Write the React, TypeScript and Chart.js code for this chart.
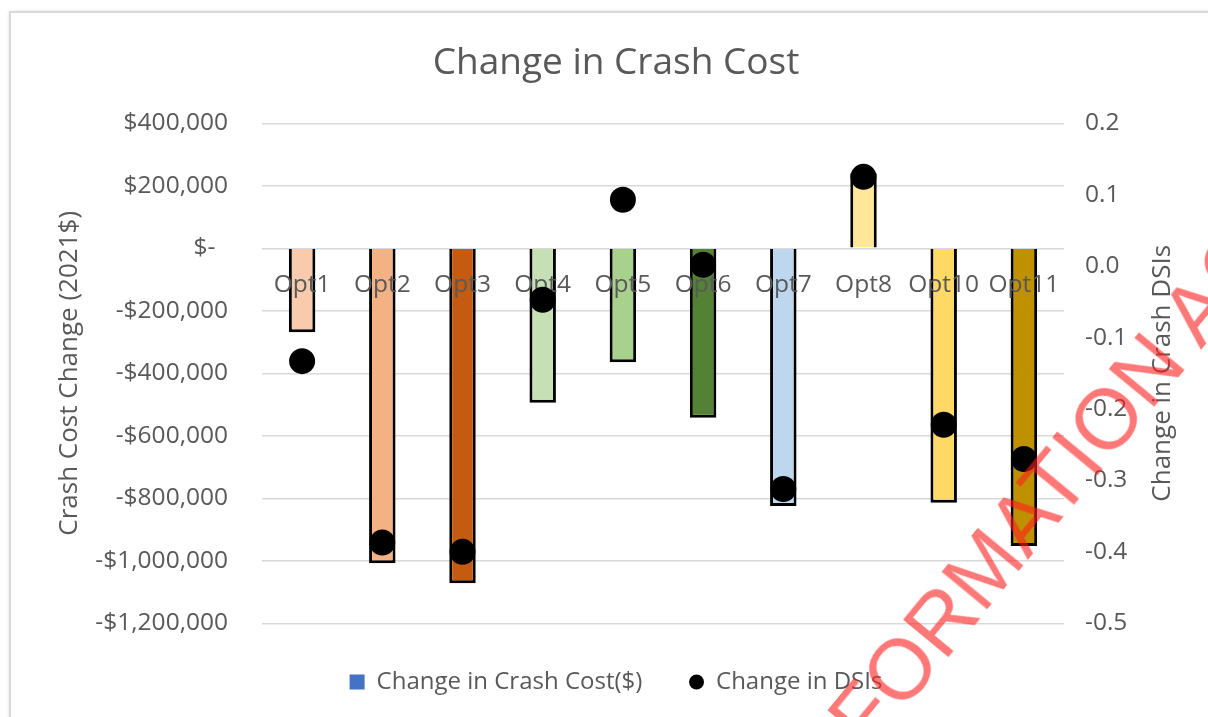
import React, { useEffect, useRef } from 'react';
import { Chart, registerables } from 'chart.js';

Chart.register(...registerables);

// ---------- data ----------
const categories = ['Opt1', 'Opt2', 'Opt3', 'Opt4', 'Opt5', 'Opt6', 'Opt7', 'Opt8', 'Opt10', 'Opt11'];
const crashCostChange = [-269000, -1008000, -1072000, -494000, -365000, -542000, -825000, 240000, -814000, -953000];
const dsiChange = [-0.133, -0.387, -0.4, -0.047, 0.093, 0.002, -0.312, 0.125, -0.222, -0.27];
const barColors = ['#F8CBAD', '#F4B183', '#C55A11', '#C5E0B4', '#A9D18E', '#548235', '#BDD7EE', '#FFE699', '#FFD966', '#BF9000'];
const costAxisRange = [-1200000, 400000];
const costAxisStep = 200000;
const dsiAxisRange = [-0.5, 0.2];
const dsiAxisStep = 0.1;
const chartTitle = 'Change in Crash Cost';
const leftAxisTitle = 'Crash Cost Change (2021$)';
const rightAxisTitle = 'Change in Crash DSIs';
const legendTexts = ['Change in Crash Cost($)', 'Change in DSIs'];
const legendColors = ['#4472C4', '#000000'];
const watermarkText = 'INFORMATION ACT';

const FONT = "'Open Sans', sans-serif";
const TEXT = '#595959';

const formatCost = (v: number) => {
  if (Math.abs(v) < 1e-6) return '$-  ';
  const s = '$' + Math.abs(v).toLocaleString('en-US');
  return v < 0 ? '-' + s : s;
};

const labelsBetweenLayers = {
  id: 'labelsBetweenLayers',
  beforeDraw(chart: any) {
    const xs = chart.scales.x;
    if (xs && !xs.__silenced) {
      xs.drawLabels = () => {};
      xs.__silenced = true;
    }
  },
  afterDatasetDraw(chart: any, args: any) {
    if (args.index === 0) {
      const xs = chart.scales.x;
      Object.getPrototypeOf(xs).drawLabels.call(xs, chart.chartArea);
    }
  },
};

const rightTitlePlugin = {
  id: 'rightTitle',
  afterDraw(chart: any) {
    const { ctx, chartArea } = chart;
    const s = chart.scales.y1;
    ctx.save();
    ctx.translate(s.right - 45, (chartArea.top + chartArea.bottom) / 2);
    ctx.rotate(-Math.PI / 2);
    ctx.font = `26px ${FONT}`;
    ctx.fillStyle = TEXT;
    ctx.textAlign = 'center';
    ctx.textBaseline = 'middle';
    ctx.fillText(rightAxisTitle, 0, 0);
    ctx.restore();
  },
};

export default function App() {
  const canvasRef = useRef<HTMLCanvasElement | null>(null);

  useEffect(() => {
    if (!canvasRef.current) return;
    Chart.defaults.font.family = FONT;
    Chart.defaults.color = TEXT;
    const chart = new Chart(canvasRef.current, {
      type: 'bar',
      data: {
        labels: categories,
        datasets: [
          {
            type: 'bar',
            label: legendTexts[0],
            data: crashCostChange,
            backgroundColor: barColors,
            borderColor: '#000000',
            borderWidth: 3,
            borderSkipped: 'start',
            barPercentage: 0.33,
            categoryPercentage: 1,
            yAxisID: 'y',
            order: 1,
          },
          {
            type: 'line',
            label: legendTexts[1],
            data: dsiChange,
            showLine: false,
            pointRadius: 13,
            pointHoverRadius: 13,
            pointBackgroundColor: '#000000',
            pointBorderWidth: 0,
            borderColor: '#000000',
            backgroundColor: '#000000',
            yAxisID: 'y1',
            order: 0,
          } as any,
        ],
      },
      options: {
        animation: false,
        responsive: true,
        maintainAspectRatio: false,
        events: [],
        layout: { padding: { left: 24, right: 0, top: 0, bottom: 13 } },
        plugins: {
          title: {
            display: true,
            text: chartTitle,
            color: TEXT,
            font: { size: 37, weight: 'normal', family: FONT },
            padding: { top: 40.8, bottom: 38.1 },
          },
          legend: {
            position: 'bottom',
            labels: {
              font: { size: 24, family: FONT },
              color: TEXT,
              padding: 46.7,
              boxWidth: 15,
              boxHeight: 15,
              useBorderRadius: true,
              generateLabels: () =>
                legendTexts.map((t, i) => ({
                  text: t,
                  fillStyle: legendColors[i],
                  strokeStyle: legendColors[i],
                  fontColor: TEXT,
                  lineWidth: 0,
                  borderRadius: i === 1 ? 7.5 : 0,
                  hidden: false,
                  datasetIndex: i,
                })),
            },
          } as any,
          tooltip: { enabled: false },
        },
        scales: {
          x: {
            type: 'category',
            position: { y: 0 } as any,
            offset: true,
            grid: { display: false, drawTicks: false },
            border: { display: false },
            ticks: {
              font: { size: 24.5, family: FONT },
              color: TEXT,
              padding: 22,
              maxRotation: 0,
              autoSkip: false,
            },
          },
          y: {
            type: 'linear',
            position: 'left',
            min: costAxisRange[0],
            max: costAxisRange[1],
            grid: { color: '#D9D9D9', lineWidth: 1.5, drawTicks: false },
            border: { display: false },
            ticks: {
              stepSize: costAxisStep,
              font: { size: 24.5, family: FONT },
              color: TEXT,
              padding: 34,
              callback: (v: any) => formatCost(Number(v)),
            },
            title: {
              display: true,
              text: leftAxisTitle,
              color: TEXT,
              font: { size: 26, family: FONT },
              padding: { top: 30.4, bottom: 0 },
            },
            afterFit: (s: any) => {
              s.width = 238;
            },
          },
          y1: {
            type: 'linear',
            position: 'right',
            min: dsiAxisRange[0],
            max: dsiAxisRange[1],
            grid: { display: false, drawTicks: false },
            border: { display: false },
            ticks: {
              stepSize: dsiAxisStep,
              font: { size: 24.5, family: FONT },
              color: TEXT,
              padding: 21,
              callback: (v: any) => {
                const n = Number(v);
                return (Math.abs(n) < 1e-9 ? 0 : n).toFixed(1);
              },
            },
            afterFit: (s: any) => {
              s.width = 144;
            },
          },
        },
      } as any,
      plugins: [labelsBetweenLayers, rightTitlePlugin],
    });
    return () => chart.destroy();
  }, []);

  return (
    <div style={{ position: 'absolute', left: 0, top: 0, width: 1208, height: 717, overflow: 'hidden', background: '#ffffff' }}>
      <div
        style={{
          position: 'absolute',
          left: 9,
          top: 11,
          width: 1400,
          height: 900,
          borderLeft: '2px solid #D9D9D9',
          borderTop: '2px solid #D9D9D9',
          boxShadow: '0 0 3px rgba(0,0,0,0.12)',
        }}
      />
      <div style={{ position: 'absolute', left: 0, top: 0, width: 1208, height: 717 }}>
        <canvas ref={canvasRef} />
      </div>
      <div
        style={{
          position: 'absolute',
          left: 1039,
          top: 500,
          transform: 'translate(-50%, -50%) rotate(-50.5deg)',
          fontFamily: "'Liberation Sans', Arial, sans-serif",
          fontSize: 85,
          lineHeight: 1,
          whiteSpace: 'nowrap',
          color: 'rgba(255, 30, 30, 0.6)',
          pointerEvents: 'none',
        }}
      >
        {watermarkText}
      </div>
    </div>
  );
}
